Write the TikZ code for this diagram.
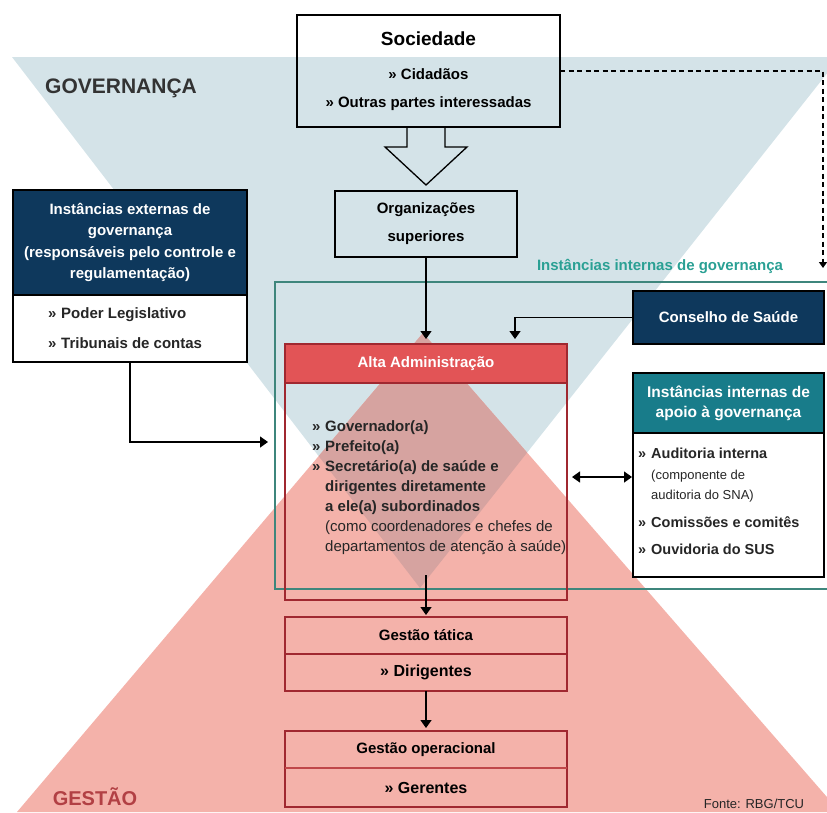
\documentclass[tikz,border=0pt]{standalone}
\usepackage{fontspec}
\setmainfont{Liberation Sans}
\usetikzlibrary{arrows.meta, positioning, calc}
\definecolor{govblue}{RGB}{212,227,232}
\definecolor{gestpink}{RGB}{244,178,170}
\definecolor{overlapcolor}{RGB}{214,163,160}
\definecolor{navycolor}{RGB}{14,56,92}
\definecolor{tealcolor}{RGB}{24,124,138}
\definecolor{altared}{RGB}{226,84,86}
\definecolor{darkred}{RGB}{160,40,48}
\definecolor{intgreen}{RGB}{62,134,124}
\definecolor{inttext}{RGB}{42,160,148}
\definecolor{gestaored}{RGB}{178,64,68}
\newcommand{\itm}{\makebox[13pt][l]{»}}
\newcommand{\cnt}{\hspace*{13pt}}

\begin{document}
\begin{tikzpicture}[x=1pt, y=-1pt,
    box/.style={rectangle, draw, line width=1.3pt, inner sep=0pt, outer sep=0pt, align=center},
    head/.style={box, draw=black, text=white, font=\fontsize{15}{21.5}\selectfont\bfseries},
    redbox/.style={box, draw=darkred, line width=1.2pt},
    items/.style={inner sep=0pt, align=left, anchor=west, text=black!85},
    arrow/.style={-{Triangle[length=8pt, width=11pt]}, line width=1.3pt},
    dblarrow/.style={{Triangle[length=8pt, width=11pt]}-{Triangle[length=8pt, width=11pt]}, line width=1.3pt},
    dasharrow/.style={-{Triangle[length=6pt, width=8pt]}, line width=1.5pt, dash pattern=on 5pt off 3.5pt}
]
\useasboundingbox (0,0) rectangle (827,812);
\clip (0,0) rectangle (827,812);

% fundo: governanca e gestao
\fill[govblue] (12,57) -- (840,57) -- (420,588) -- cycle;
\fill[gestpink] (423,333) -- (17,812) -- (840,812) -- cycle;
\begin{scope}
  \clip (12,57) -- (840,57) -- (420,588) -- cycle;
  \fill[overlapcolor] (423,333) -- (17,812) -- (840,812) -- cycle;
\end{scope}

\node[font=\fontsize{21}{24}\selectfont\bfseries, text=black!80] (gov) at (121,88) {GOVERNANÇA};
\node[font=\fontsize{20}{24}\selectfont\bfseries, text=gestaored] (gest) at (95,797) {GESTÃO};
\node[font=\fontsize{13}{16}\selectfont, text=black!85] (fonte) at (754,804) {Fonte: RBG/TCU};

% instancias internas
\node[draw=intgreen, line width=1.5pt, minimum width=580, minimum height=307, anchor=north west] (intgov) at (274,281) {};
\node[font=\fontsize{15}{18}\selectfont\bfseries, text=inttext] (intlabel) at (660,266) {Instâncias internas de governança};

% sociedade
\node[box, minimum width=263, minimum height=112, font=\fontsize{15}{28}\selectfont\bfseries] (soc) at (428.5,71)
  {{\fontsize{19}{22}\selectfont Sociedade}\\[6pt] » Cidadãos\\ » Outras partes interessadas};
\node[box, minimum width=182, minimum height=66, font=\fontsize{15}{28}\selectfont\bfseries] (org) at (426,224) {Organizações\\superiores};
\draw[line width=1.3pt] ($(soc.south -| org.north)+(-19,0)$) -- ++(0,20) -- ++(-22,0) -- ++(41,38) -- ++(41,-38) -- ++(-22,0) -- ++(0,-20);

% instancias externas
\node[head, fill=navycolor, minimum width=234, minimum height=105] (exth) at (130,242.5)
  {Instâncias externas de\\governança\\(responsáveis pelo controle e\\regulamentação)};
\node[box, fill=white, minimum width=234, minimum height=67, below=0pt of exth] (extb) {};
\node[items, font=\fontsize{15}{30}\selectfont\bfseries] (extitems) at ([xshift=35pt]extb.west)
  {\itm Poder Legislativo\\ \itm Tribunais de contas};

% conselho e apoio
\node[head, fill=navycolor, minimum width=191, minimum height=53] (cons) at (728.5,317.5) {Conselho de Saúde};
\node[head, fill=tealcolor, minimum width=191, minimum height=60, below=29pt of cons, font=\fontsize{15.5}{20}\selectfont\bfseries] (apoioh)
  {Instâncias internas de\\apoio à governança};
\node[box, fill=white, minimum width=191, minimum height=144, below=0pt of apoioh] (apoiob) {};
\node[items, font=\fontsize{14.5}{20.5}\selectfont\bfseries] (apoioitems) at ([xshift=5pt, yshift=3.5pt]apoiob.west)
  {\itm Auditoria interna\\ \cnt{\mdseries\fontsize{13}{20.5}\selectfont(componente de}\\ \cnt{\mdseries\fontsize{13}{20.5}\selectfont auditoria do SNA)}\\[7pt]
   \itm Comissões e comitês\\[7pt] \itm Ouvidoria do SUS};

% alta administracao
\node[redbox, fill=altared, minimum width=282, minimum height=39, text=white, font=\fontsize{15}{18}\selectfont\bfseries] (altah) at (426,363.5) {Alta Administração};
\node[redbox, minimum width=282, minimum height=217, below=0pt of altah] (altab) {};
\node[items, font=\fontsize{15}{20}\selectfont\bfseries] (altaitems) at ([xshift=27pt, yshift=4pt]altab.west)
  {\itm Governador(a)\\ \itm Prefeito(a)\\ \itm Secretário(a) de saúde e\\ \cnt dirigentes diretamente\\ \cnt a ele(a) subordinados\\
   \cnt{\mdseries(como coordenadores e chefes de}\\ \cnt{\mdseries departamentos de atenção à saúde)}};

% gestao
\node[redbox, minimum width=282, minimum height=37, below=17pt of altab, font=\fontsize{15}{18}\selectfont\bfseries] (tat) {Gestão tática};
\node[redbox, minimum width=282, minimum height=37, below=0pt of tat, font=\fontsize{16}{18}\selectfont\bfseries] (tatb) {» Dirigentes};
\node[redbox, minimum width=282, minimum height=37, below=40pt of tatb, font=\fontsize{15}{18}\selectfont\bfseries] (op) {Gestão operacional};
\node[redbox, minimum width=282, minimum height=39, below=0pt of op, font=\fontsize{16}{18}\selectfont\bfseries] (opb) {» Gerentes};
\draw[altared!85!black, line width=2.2pt] (op.south west) -- (op.south east);

% conexoes
\coordinate (consin) at ($(altah.north east)+(-52,0)$);
\coordinate (extin) at (268,442);
\coordinate (dblpt) at ([yshift=14.5pt]altab.east);
\coordinate (dashend) at (823,268);
\draw[arrow, shorten >=5pt] (org) -- (altah);
\draw[arrow, shorten >=5pt] (cons.west) -| (consin);
\draw[arrow] (extb.south) |- (extin);
\draw[dblarrow, shorten <=5pt, shorten >=1pt] (dblpt) -- (dblpt -| apoiob.west);
\draw[arrow, shorten >=2pt] ([yshift=25pt]altab.south) -- (tat.north);
\draw[arrow, shorten >=3pt] (tatb) -- (op);
\draw[dasharrow] (soc.east) -| (dashend);
\end{tikzpicture}
\end{document}
